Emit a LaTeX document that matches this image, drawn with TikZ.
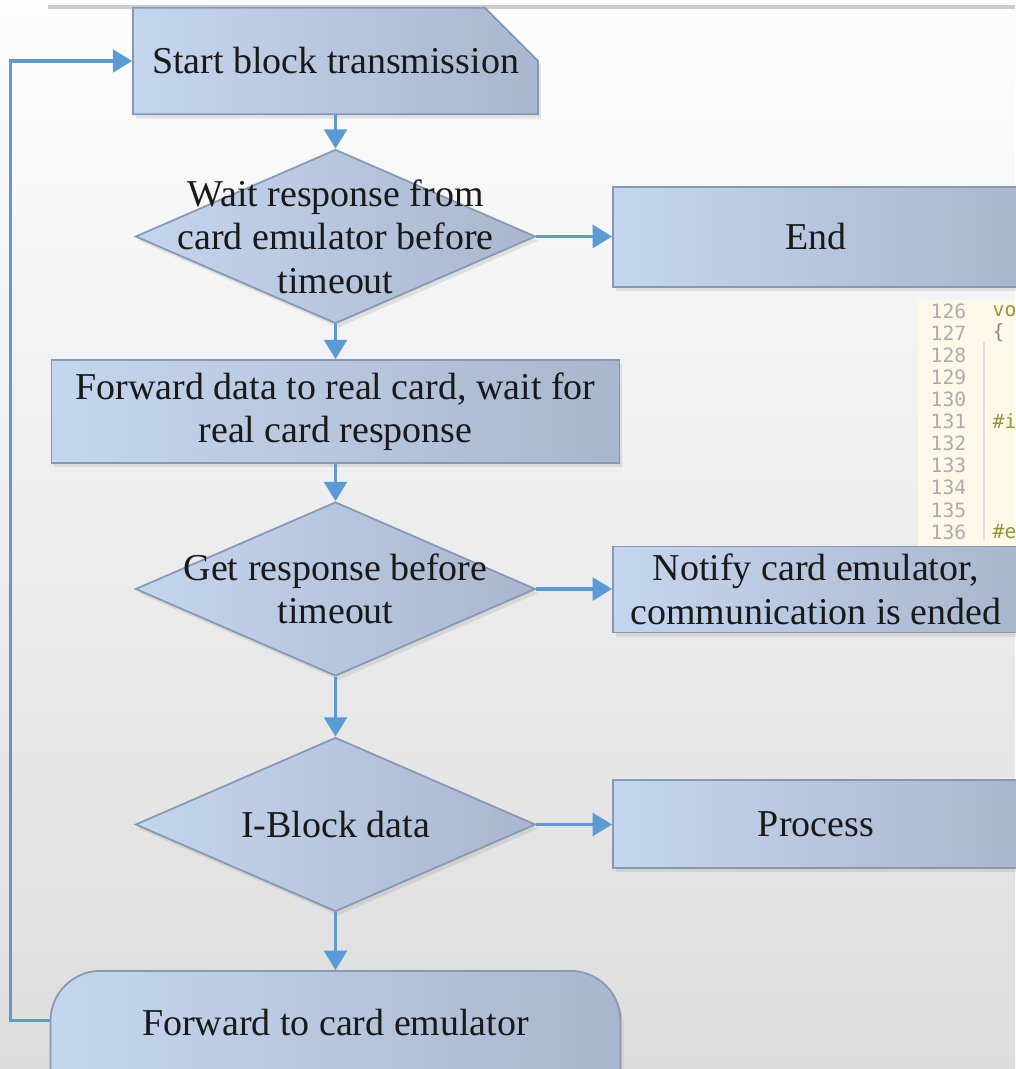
\documentclass[tikz,border=0pt]{standalone}
\usepackage{fontspec}
\setmainfont{Liberation Serif}
\newfontfamily\codefont{DejaVu Sans Mono}
\usetikzlibrary{arrows.meta,shapes.geometric,shapes.misc,shadows}

\definecolor{bgtop}{RGB}{253,253,253}
\definecolor{bgbot}{RGB}{221,221,221}
\definecolor{rulegray}{RGB}{205,205,205}
\definecolor{boxlight}{RGB}{196,214,238}
\definecolor{boxdark}{RGB}{169,183,206}
\definecolor{boxedge}{RGB}{134,152,180}
\definecolor{flowblue}{RGB}{91,155,213}
\definecolor{codebg}{RGB}{253,248,231}
\definecolor{codenum}{RGB}{172,172,172}
\definecolor{codekey}{RGB}{166,140,52}
\definecolor{codepre}{RGB}{148,150,62}

\tikzset{
  box/.style={draw=boxedge, line width=0.5pt, left color=boxlight, right color=boxdark,
    drop shadow={opacity=0.18, shadow xshift=0.8pt, shadow yshift=-1.2pt},
    font=\fontsize{10.8}{12.4}\selectfont, text=black!90, align=center, inner sep=0pt},
  decision/.style={box, diamond, minimum width=4cm, minimum height=1.74cm},
  dtext/.style={font=\fontsize{10.8}{12.4}\selectfont, text=black!90, align=center, inner sep=0pt},
  flow/.style={draw=flowblue, line width=0.9pt, -{Triangle[length=5.5pt,width=6.5pt]}},
  lineno/.style={font=\codefont\fontsize{5.6}{6}\selectfont, text=codenum, anchor=west, inner sep=0pt},
}

\begin{document}
\begin{tikzpicture}
\useasboundingbox (0,0) rectangle (10.15,-10.69);
\shade[top color=bgtop, bottom color=bgbot] (0,0) rectangle (10.15,-10.69);
\draw[rulegray, line width=1.2pt] (0.48,-0.07) -- (10.15,-0.07);

% code listing in the background
\fill[codebg] (9.18,-3.00) rectangle (10.15,-5.52);
\draw[black!12, line width=0.3pt] (9.84,-3.42) -- (9.84,-5.40);
\node[lineno] (l126) at (9.30,-3.110) {126};
\node[lineno] (l127) at (9.30,-3.331) {127};
\node[lineno] (l128) at (9.30,-3.552) {128};
\node[lineno] (l129) at (9.30,-3.773) {129};
\node[lineno] (l130) at (9.30,-3.994) {130};
\node[lineno] (l131) at (9.30,-4.215) {131};
\node[lineno] (l132) at (9.30,-4.436) {132};
\node[lineno] (l133) at (9.30,-4.657) {133};
\node[lineno] (l134) at (9.30,-4.878) {134};
\node[lineno] (l135) at (9.30,-5.099) {135};
\node[lineno] (l136) at (9.30,-5.320) {136};
\node[lineno, text=codekey] (c126) at (9.92,-3.110) {vo};
\node[lineno, text=black!45] (c127) at (9.92,-3.331) {\{};
\node[lineno, text=codepre] (c131) at (9.92,-4.215) {\#i};
\node[lineno, text=codepre] (c136) at (9.92,-5.320) {\#e};

% main column
\node[box, chamfered rectangle, chamfered rectangle corners=north east,
  chamfered rectangle xsep=0.40cm, chamfered rectangle ysep=0.40cm,
  minimum width=4.05cm, minimum height=1.02cm] (start) at (3.355,-0.610) {Start block transmission};
\node[decision] (wait) at (3.355,-2.365) {};
\node[dtext] (waittxt) at (wait) {Wait response from\\card emulator before\\timeout};
\node[box, minimum width=5.68cm, minimum height=1.03cm] (fwddata) at (3.355,-4.115) {Forward data to real card, wait for\\real card response};
\node[decision] (getresp) at (3.355,-5.890) {};
\node[dtext] (getresptxt) at (getresp) {Get response before\\timeout};
\node[decision] (iblock) at (3.355,-8.245) {};
\node[dtext] (iblocktxt) at (iblock) {I-Block data};
\node[box, rounded corners=0.5cm, minimum width=5.70cm, text height=0.65cm, text depth=0.90cm,
  anchor=north] (fwdemu) at (3.355,-9.700) {Forward to card emulator};

% right column
\node[box, anchor=west, minimum width=4.06cm, minimum height=1.00cm] (endbox) at (6.120,-2.370) {End};
\node[box, anchor=west, minimum width=4.06cm, minimum height=0.86cm] (notify) at (6.120,-5.895) {Notify card emulator,\\communication is ended};
\node[box, anchor=west, minimum width=4.06cm, minimum height=0.88cm] (process) at (6.120,-8.240) {Process};

% connectors
\draw[flow] (start.south) -- (wait.north);
\draw[flow] (wait.south) -- (fwddata.north);
\draw[flow] (fwddata.south) -- (getresp.north);
\draw[flow] (getresp.south) -- (iblock.north);
\draw[flow] (iblock.south) -- (fwdemu.north);
\draw[flow] (wait.east) -- (wait.east -| endbox.west);
\draw[flow] (getresp.east) -- (getresp.east -| notify.west);
\draw[flow] (iblock.east) -- (iblock.east -| process.west);
\draw[flow] ([yshift=0.7mm]fwdemu.mid west) -- ++(-0.39,0) |- (start.west);
\end{tikzpicture}
\end{document}
